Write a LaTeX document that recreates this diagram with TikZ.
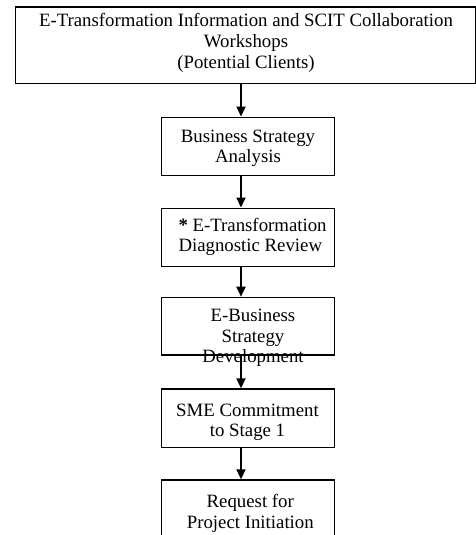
\documentclass[tikz,border=0pt]{standalone}
\usepackage{fontspec}
\setmainfont{Liberation Serif}
\usetikzlibrary{arrows.meta}
\begin{document}
\begin{tikzpicture}[x=1pt,y=-1pt,
  stagebox/.style={draw, line width=1.2pt, inner sep=0pt, anchor=north west,
    minimum width=173pt},
  stagetext/.style={font=\fontsize{18.8}{20.5}\selectfont, inner sep=0pt,
    align=center, anchor=base},
  flow/.style={line width=2pt, -{Triangle[length=10pt,width=9pt]}}]
  \clip (0,0) rectangle (476,535);
  \useasboundingbox (0,0) rectangle (476,535);

  % stage frames
  \node[stagebox, minimum width=460pt, minimum height=76.5pt] (b1) at (14.5,6.5) {};
  \node[stagebox, minimum height=58.5pt] (b2) at (161,116.5) {};
  \node[stagebox, minimum height=58.2pt] (b3) at (161,207.5) {};
  \node[stagebox, minimum height=57.6pt] (b4) at (161,296.7) {};
  \node[stagebox, minimum height=58.4pt] (b5) at (161,388.3) {};
  \node[stagebox, minimum height=70pt]   (b6) at (161,479.3) {};

  % flow line position
  \coordinate (axis) at (241,0);
  \draw[flow] (b1.south -| axis) -- (b2.north -| axis);
  \draw[flow] (b2.south -| axis) -- (b3.north -| axis);
  \draw[flow] (b3.south -| axis) -- (b4.north -| axis);
  \draw[flow] (b4.south -| axis) -- (b5.north -| axis);
  \draw[flow] (b5.south -| axis) -- (b6.north -| axis);

  % stage labels (anchored at the baseline of their last line)
  \node[stagetext] (t1) at (246,68) {E-Transformation Information and SCIT Collaboration\\Workshops\\(Potential Clients)};
  \node[stagetext] (t2) at (248,162.7) {Business Strategy\\Analysis};
  \node[stagetext, align=left, anchor=base west] (t3) at (178.3,251.7) {\textbf{*} E-Transformation\\Diagnostic Review};
  \node[stagetext] (t4) at (253,362.5) {E-Business\\Strategy\\Development};
  \node[stagetext] (t5) at (247.5,436.5) {SME Commitment\\to Stage 1};
  \node[stagetext] (t6) at (250.3,528) {Request for\\Project Initiation};
\end{tikzpicture}
\end{document}
